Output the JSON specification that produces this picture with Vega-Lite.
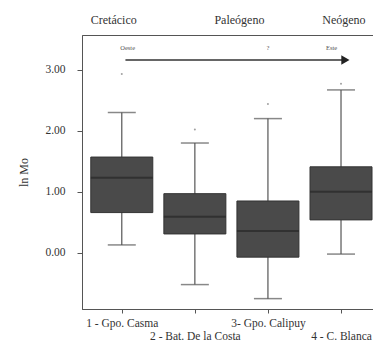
{
  "$schema": "https://vega.github.io/schema/vega-lite/v6.json",
  "width": 292,
  "height": 274,
  "autosize": {"type": "none"},
  "padding": {"left": 82, "top": 35, "right": 0, "bottom": 47},
  "background": "white",
  "config": {
    "view": {"stroke": "#555", "strokeWidth": 1},
    "font": "Liberation Serif",
    "axis": {"grid": false, "domainColor": "#555", "tickColor": "#555", "labelColor": "#333", "labelFont": "Liberation Serif", "titleFont": "Liberation Serif", "titleColor": "#333", "titleFontWeight": "normal"}
  },
  "datasets": {
    "stats": [
      {"grupo": 1, "lower": 0.13, "q1": 0.66, "median": 1.23, "q3": 1.57, "upper": 2.30, "outlier": 2.93},
      {"grupo": 2, "lower": -0.52, "q1": 0.31, "median": 0.59, "q3": 0.97, "upper": 1.80, "outlier": 2.02},
      {"grupo": 3, "lower": -0.75, "q1": -0.07, "median": 0.36, "q3": 0.85, "upper": 2.20, "outlier": 2.44},
      {"grupo": 4, "lower": -0.02, "q1": 0.54, "median": 1.00, "q3": 1.41, "upper": 2.67, "outlier": 2.77}
    ],
    "periods": [
      {"label": "Cretácico", "x": 0.89, "y": 3.82},
      {"label": "Paleógeno", "x": 2.61, "y": 3.82},
      {"label": "Neógeno", "x": 4.04, "y": 3.82}
    ],
    "dirs": [
      {"label": "Oeste", "x": 1.08, "y": 3.36},
      {"label": "?", "x": 3.0, "y": 3.36},
      {"label": "Este", "x": 3.87, "y": 3.36}
    ],
    "arrow": [{"x": 1.05, "x2": 4.06, "y": 3.16}]
  },
  "layer": [
    {
      "data": {"name": "stats"},
      "mark": {"type": "rule", "color": "#555", "strokeWidth": 1.2},
      "encoding": {
        "x": {"field": "grupo", "type": "quantitative", "scale": {"domain": [0.524, 4.383], "nice": false, "zero": false},
          "axis": {"values": [1, 2, 3, 4], "title": null, "tickSize": 4, "labelPadding": 4, "labelFontSize": 11.5, "labelLineHeight": 13, "labelBaseline": "top", "labelOverlap": false, "labelFlush": false, "labelBound": false,
            "labelExpr": "datum.value == 1 ? '1 - Gpo. Casma' : datum.value == 2 ? ['', '2 - Bat. De la Costa'] : datum.value == 3 ? '3- Gpo. Calipuy' : ['', '4 - C. Blanca']"}},
        "y": {"field": "lower", "type": "quantitative", "scale": {"domain": [-0.92, 3.57], "nice": false, "zero": false},
          "axis": {"values": [0, 1, 2, 3], "format": ".2f", "title": "ln Mo", "titleFontSize": 12, "titlePadding": 14, "tickSize": 5, "labelPadding": 12, "labelFontSize": 11.5}},
        "y2": {"field": "upper"}
      }
    },
    {
      "data": {"name": "stats"},
      "mark": {"type": "bar", "size": 62, "color": "#4a4a4a", "stroke": "#333", "strokeWidth": 1},
      "encoding": {
        "x": {"field": "grupo", "type": "quantitative"},
        "y": {"field": "q1", "type": "quantitative"},
        "y2": {"field": "q3"}
      }
    },
    {
      "data": {"name": "stats"},
      "mark": {"type": "tick", "orient": "horizontal", "size": 62, "thickness": 2, "color": "#262626"},
      "encoding": {
        "x": {"field": "grupo", "type": "quantitative"},
        "y": {"field": "median", "type": "quantitative"}
      }
    },
    {
      "data": {"name": "stats"},
      "mark": {"type": "tick", "orient": "horizontal", "size": 28, "thickness": 1.5, "color": "#555"},
      "encoding": {
        "x": {"field": "grupo", "type": "quantitative"},
        "y": {"field": "upper", "type": "quantitative"}
      }
    },
    {
      "data": {"name": "stats"},
      "mark": {"type": "tick", "orient": "horizontal", "size": 28, "thickness": 1.5, "color": "#555"},
      "encoding": {
        "x": {"field": "grupo", "type": "quantitative"},
        "y": {"field": "lower", "type": "quantitative"}
      }
    },
    {
      "data": {"name": "stats"},
      "mark": {"type": "point", "shape": "circle", "size": 4, "filled": true, "color": "#777"},
      "encoding": {
        "x": {"field": "grupo", "type": "quantitative"},
        "y": {"field": "outlier", "type": "quantitative"}
      }
    },
    {
      "data": {"name": "periods"},
      "mark": {"type": "text", "fontSize": 12, "color": "#333", "font": "Liberation Serif"},
      "encoding": {
        "x": {"field": "x", "type": "quantitative"},
        "y": {"field": "y", "type": "quantitative"},
        "text": {"field": "label"}
      }
    },
    {
      "data": {"name": "dirs"},
      "mark": {"type": "text", "fontSize": 6.5, "color": "#555", "font": "Liberation Serif"},
      "encoding": {
        "x": {"field": "x", "type": "quantitative"},
        "y": {"field": "y", "type": "quantitative"},
        "text": {"field": "label"}
      }
    },
    {
      "data": {"name": "arrow"},
      "mark": {"type": "rule", "color": "#333", "strokeWidth": 1.5},
      "encoding": {
        "x": {"field": "x", "type": "quantitative"},
        "x2": {"field": "x2"},
        "y": {"field": "y", "type": "quantitative"}
      }
    },
    {
      "data": {"name": "arrow"},
      "mark": {"type": "point", "shape": "triangle-right", "size": 90, "filled": true, "color": "#222", "opacity": 1},
      "encoding": {
        "x": {"field": "x2", "type": "quantitative"},
        "y": {"field": "y", "type": "quantitative"}
      }
    }
  ]
}
